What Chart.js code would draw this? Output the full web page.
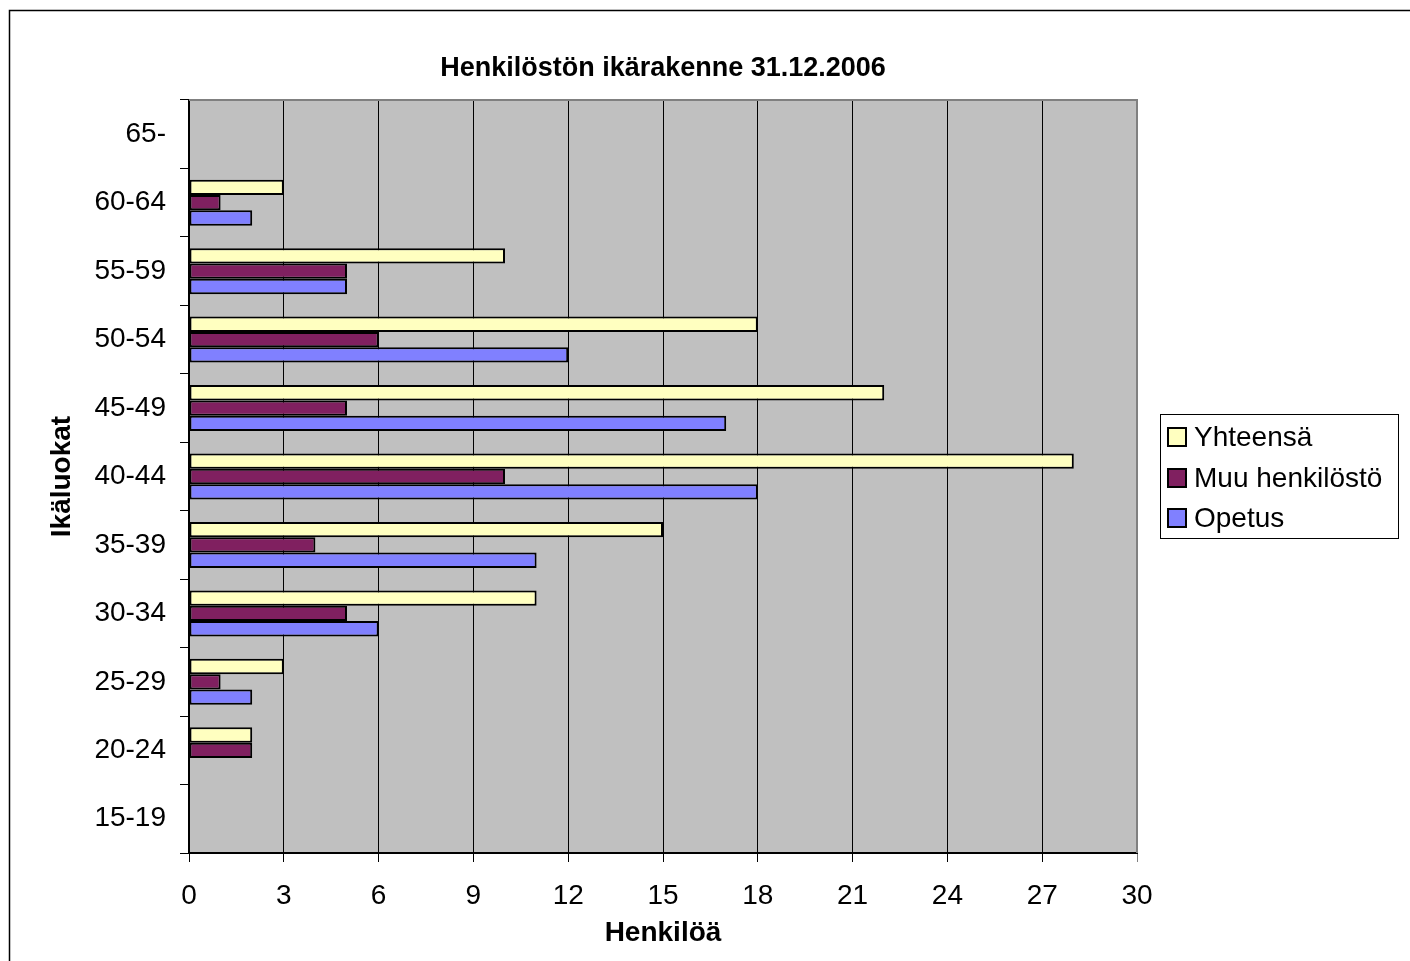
<!DOCTYPE html>
<html>
<head>
<meta charset="utf-8">
<script src="https://cdn.jsdelivr.net/npm/chart.js@4/dist/chart.umd.min.js"></script>
<style>
  body { margin: 0; background: #fff; }
  canvas { display: block; }
</style>
</head>
<body>
<canvas id="ikaChart" width="1410" height="961"></canvas>
<script>
// Ikäluokat ylhäältä alas
const ikaluokat = ['65-', '60-64', '55-59', '50-54', '45-49', '40-44', '35-39', '30-34', '25-29', '20-24', '15-19'];
const yhteensa = [0, 3, 10, 18, 22, 28, 15, 11, 3, 2, 0];
const muuHenkilosto = [0, 1, 5, 6, 5, 10, 4, 5, 1, 2, 0];
const opetus = [0, 2, 5, 12, 17, 18, 11, 6, 2, 0, 0];
const xTicks = [0, 3, 6, 9, 12, 15, 18, 21, 24, 27, 30];

const fontFamily = '"Liberation Sans", Arial, sans-serif';

// Tausta, kehys ja selite piirretään itse
const excelLook = {
  id: 'excelLook',
  beforeDraw(chart) {
    const { ctx, chartArea: a } = chart;
    ctx.save();
    ctx.fillStyle = '#fff';
    ctx.fillRect(0, 0, chart.width, chart.height);
    ctx.fillStyle = '#C0C0C0';
    ctx.fillRect(a.left, a.top, a.right - a.left, a.bottom - a.top);
    ctx.restore();
  },
  afterDraw(chart) {
    const { ctx, chartArea: a } = chart;
    ctx.save();
    // harmaa ylä- ja oikea reuna
    ctx.strokeStyle = '#808080';
    ctx.lineWidth = 2;
    ctx.beginPath();
    ctx.moveTo(a.left, a.top);
    ctx.lineTo(a.right, a.top);
    ctx.lineTo(a.right, a.bottom);
    ctx.stroke();
    // ulkokehys
    ctx.strokeStyle = '#000';
    ctx.lineWidth = 1.5;
    ctx.beginPath();
    ctx.moveTo(9.5, chart.height);
    ctx.lineTo(9.5, 10.5);
    ctx.lineTo(chart.width, 10.5);
    ctx.stroke();
    // selite
    ctx.fillStyle = '#fff';
    ctx.fillRect(1160, 414, 238, 124);
    ctx.strokeStyle = '#000';
    ctx.lineWidth = 1;
    ctx.strokeRect(1160.5, 414.5, 238, 124);
    const rows = [437, 478, 518];
    ctx.font = '28px ' + fontFamily;
    ctx.textBaseline = 'middle';
    ctx.textAlign = 'left';
    chart.data.datasets.forEach((ds, i) => {
      ctx.fillStyle = ds.backgroundColor;
      ctx.fillRect(1168, rows[i] - 9, 18, 18);
      ctx.lineWidth = 2;
      ctx.strokeStyle = '#000';
      ctx.strokeRect(1168, rows[i] - 9, 18, 18);
      ctx.fillStyle = '#000';
      ctx.fillText(ds.label, 1194, rows[i] + 1);
    });
    ctx.restore();
  }
};

new Chart(document.getElementById('ikaChart'), {
  type: 'bar',
  data: {
    labels: ikaluokat,
    datasets: [
      { label: 'Yhteensä', data: yhteensa, backgroundColor: '#FFFFC0' },
      { label: 'Muu henkilöstö', data: muuHenkilosto, backgroundColor: '#802060' },
      { label: 'Opetus', data: opetus, backgroundColor: '#8080FF' }
    ]
  },
  options: {
    indexAxis: 'y',
    responsive: false,
    animation: false,
    devicePixelRatio: 1,
    layout: { padding: { left: 0, top: 0, right: 273, bottom: 0 } },
    datasets: {
      bar: {
        borderColor: '#000',
        borderWidth: 2,
        borderSkipped: false,
        categoryPercentage: 0.672,
        barPercentage: 1
      }
    },
    plugins: {
      legend: { display: false },
      tooltip: { enabled: false },
      title: {
        display: true,
        fullSize: false,
        text: 'Henkilöstön ikärakenne 31.12.2006',
        color: '#000',
        font: { family: fontFamily, size: 27, weight: 'bold', lineHeight: 1.2 },
        padding: { top: 52, bottom: 15.6 }
      }
    },
    scales: {
      x: {
        min: 0,
        max: 30,
        afterBuildTicks: s => { s.ticks = xTicks.map(v => ({ value: v })); },
        afterFit: s => { s.height = 108; },
        grid: {
          color: c => (c.tick && c.tick.value === 30 ? '#808080' : '#000'),
          lineWidth: 1,
          tickLength: 9
        },
        border: { color: '#000', width: 2 },
        ticks: {
          color: '#000',
          padding: 17,
          font: { family: fontFamily, size: 28 }
        },
        title: {
          display: true,
          text: 'Henkilöä',
          color: '#000',
          font: { family: fontFamily, size: 28, weight: 'bold', lineHeight: 1.2 },
          padding: { top: 0, bottom: 11 }
        }
      },
      y: {
        afterFit: s => { s.width = 189; },
        grid: {
          offset: true,
          drawOnChartArea: false,
          color: '#000',
          tickLength: 9
        },
        border: { color: '#000', width: 1.5 },
        ticks: {
          color: '#000',
          padding: 14,
          font: { family: fontFamily, size: 28 }
        },
        title: {
          display: true,
          text: 'Ikäluokat',
          color: '#000',
          font: { family: fontFamily, size: 28, weight: 'bold', lineHeight: 1.2 },
          padding: { top: 45, bottom: 0 }
        }
      }
    }
  },
  plugins: [excelLook]
});
</script>
</body>
</html>
